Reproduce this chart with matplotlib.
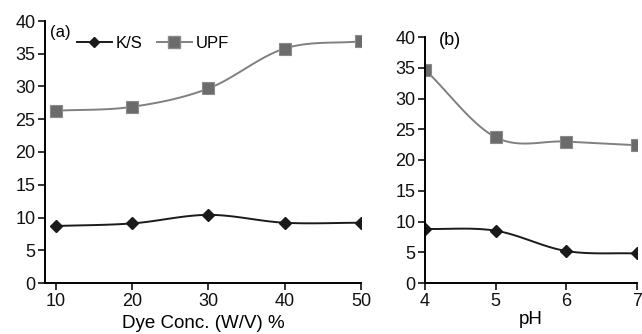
import matplotlib.pyplot as plt
import numpy as np

plt.rcParams['font.family'] = ['Liberation Sans', 'DejaVu Sans']

conc = [10, 20, 30, 40, 50]
ks_conc = [8.7, 9.1, 10.4, 9.2, 9.2]
upf_conc = [26.3, 26.9, 29.7, 35.8, 36.9]

ph = [4, 5, 6, 7]
ks_ph = [8.8, 8.5, 5.2, 4.8]
upf_ph = [34.7, 23.7, 23.0, 22.4]


def smooth(x, y, n=30):
    # Catmull-Rom curve through the points, like Excel's smoothed lines
    x = np.asarray(x, float)
    y = np.asarray(y, float)
    px = np.concatenate([[2 * x[0] - x[1]], x, [2 * x[-1] - x[-2]]])
    py = np.concatenate([[2 * y[0] - y[1]], y, [2 * y[-1] - y[-2]]])
    xs, ys = [], []
    t = np.linspace(0, 1, n)
    for i in range(1, len(px) - 2):
        for p, out in ((px, xs), (py, ys)):
            p0, p1, p2, p3 = p[i - 1], p[i], p[i + 1], p[i + 2]
            out.extend(0.5 * (2 * p1 + (-p0 + p2) * t
                              + (2 * p0 - 5 * p1 + 4 * p2 - p3) * t ** 2
                              + (-p0 + 3 * p1 - 3 * p2 + p3) * t ** 3))
    return xs, ys


fig = plt.figure(figsize=(6.42, 3.34), dpi=100)
ax1 = fig.add_axes([45 / 642, 51 / 334, 316 / 642, 262 / 334])
ax2 = fig.add_axes([425 / 642, 51 / 334, 212 / 642, 246 / 334])

ks_col = '#1a1a1a'
upf_line = '#808080'
upf_mark = '#6b6b6b'

for ax, x, ks, upf in ((ax1, conc, ks_conc, upf_conc), (ax2, ph, ks_ph, upf_ph)):
    sx, sy = smooth(x, ks)
    ax.plot(sx, sy, color=ks_col, lw=1.4)
    ax.plot(x, ks, ls='none', marker='D', ms=6.5, color=ks_col)
    sx, sy = smooth(x, upf)
    ax.plot(sx, sy, color=upf_line, lw=1.4)
    ax.plot(x, upf, ls='none', marker='s', ms=8.5, color=upf_mark,
            mec='#8a8a8a', mew=0.8)
    ax.set_ylim(0, 40)
    ax.set_yticks(range(0, 41, 5))
    for s in ('top', 'right'):
        ax.spines[s].set_visible(False)
    ax.spines['left'].set_linewidth(1.4)
    ax.spines['bottom'].set_linewidth(1.4)
    ax.tick_params(direction='out', length=5, width=1.2, labelsize=13,
                   pad=2, colors='#111111')

ax1.set_xlim(8.56, 50)
ax1.set_xticks(conc)
ax1.set_xlabel('Dye Conc. (W/V) %', fontsize=13.5, labelpad=4)
ax1.text(9.2, 38.2, '(a)', fontsize=12, va='center')

ax2.set_xlim(4, 7)
ax2.set_xticks(ph)
ax2.set_xlabel('pH', fontsize=13.5, labelpad=1)
ax2.text(4.2, 39.5, '(b)', fontsize=13, va='center')

# legend drawn to match the reference layout
h1, = ax1.plot([], [], color=ks_col, lw=1.4, marker='D', ms=5.5)
h2, = ax1.plot([], [], color=upf_line, lw=1.4, marker='s', ms=8.5,
               mfc=upf_mark, mec='#8a8a8a')
ax1.legend([h1, h2], ['K/S', 'UPF'], ncol=2, frameon=False, fontsize=12,
           loc='center left', bbox_to_anchor=(0.101, 0.916), borderpad=0,
           borderaxespad=0, handlelength=2.1, handletextpad=0.2,
           columnspacing=0.9)

fig.savefig('out.png', dpi=100)
